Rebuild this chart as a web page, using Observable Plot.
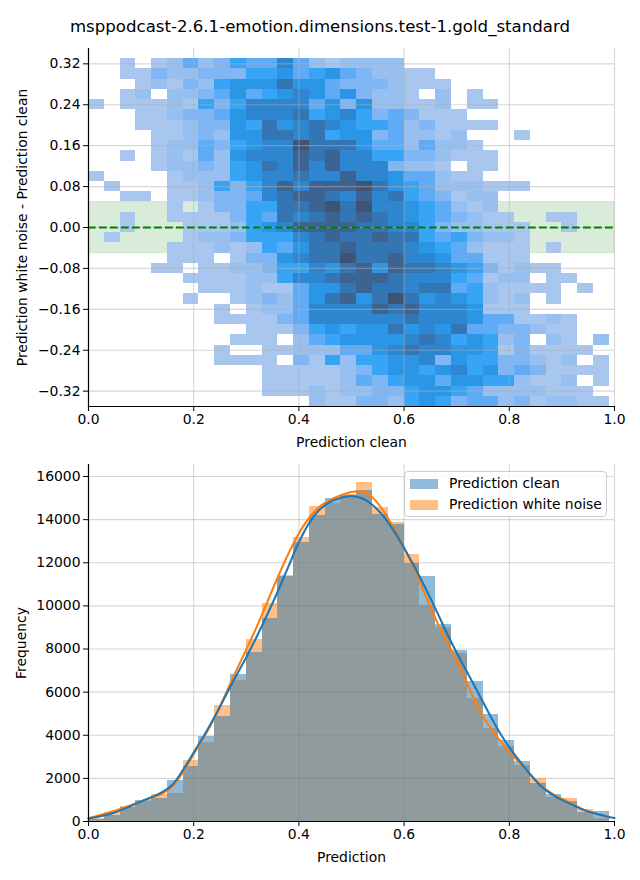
<!DOCTYPE html>
<html>
<head>
<meta charset="utf-8">
<script src="https://cdn.jsdelivr.net/npm/d3@7"></script>
<script src="https://cdn.jsdelivr.net/npm/@observablehq/plot@0.6"></script>
<style>
  html, body { margin: 0; padding: 0; background: #fff; }
  body { width: 640px; font-family: "DejaVu Sans", sans-serif; color: #000; }
  #title { height: 40px; line-height: 53px; text-align: center; font-size: 16.6px; white-space: nowrap; }
  #lower { position: relative; height: 420px; }
  svg { display: block; }
  #legend { position: absolute; left: 404px; top: 11px; width: 203px; height: 46px; box-sizing: border-box;
    background: rgba(255,255,255,.8); border: 1px solid #ccc; border-radius: 4px; font-size: 13.9px; line-height: 21px; padding: 1px 0 0 5px; }
  #legend div { display: flex; align-items: center; white-space: nowrap; }
  #legend i { display: inline-block; width: 28px; height: 10px; margin-right: 11px; }
</style>
</head>
<body>
<div id="title">msppodcast-2.6.1-emotion.dimensions.test-1.gold_standard</div>
<div id="upper"></div>
<div id="lower"></div>
<script>
const xTicks = [0, 0.2, 0.4, 0.6, 0.8, 1];
const diffTicks = [-0.32, -0.24, -0.16, -0.08, 0, 0.08, 0.16, 0.24, 0.32];
const freqTicks = [0, 2000, 4000, 6000, 8000, 10000, 12000, 14000, 16000];
const colWidth = 0.03;
const rowHeight = 0.02;
const topRowCentre = 0.34;

// Density level of each heatmap cell: one string per row from the top, one character per column.
const densityRows = [
  "",
  "..1.1242354474212222",
  "..11322333556456432211",
  "...12132566686643332111",
  "..12.2234645676463221.2.1",
  "1.111215357777463622112.11",
  "...112334677785675343111",
  "...11123365867876554231111",
  "....11232668878566342212...1",
  "....122435677a88864424221",
  "..1.1214267779897755332111",
  "....1223256879797773221.11",
  "1....12225677877977644211",
  ".1...112535797999a8654222111",
  "..11.112334789987978543122",
  ".....1.13355889a8a77654212",
  "..1..1111354878989876543211..11",
  "..1...1112567999988775322111..1",
  ".1....1223555789889885453221",
  ".....11121254688988876542111.1",
  ".....111.1336788a88977644111",
  "....11.11223557689698876531211",
  "......1111225778999877754122.11",
  ".......11121146689887884521111.1",
  "......1..1232468968a86765212.1",
  "........1.122477779897776111",
  "........11113477777787776441121",
  "..........111356566867684433211",
  ".........111.245666678756523.21.2",
  "........1..112224467877665131111",
  "........1111.315255667365533212.1",
  "...........1111123566567563431111",
  "...........11111243566466552112.1",
  "...........111212233566542222111",
  "..............2113325653442312211"
];
const levelDomain = [1, 2, 3, 4, 5, 6, 7, 8, 9, 10];
const levelColors = ["#a8c6ee", "#97bff0", "#80b6f3", "#5fabf6", "#37a4f6", "#2a96e5", "#2d86cf", "#3475b3", "#3c6392", "#3f5472"];

const histClean = [110, 280, 640, 980, 1050, 1890, 2540, 3930, 4860, 6810, 7830, 9393, 11350, 12950, 14176, 15000, 15100, 15370, 14250, 13760, 11980, 11370, 9117, 7920, 6480, 4950, 3744, 2770, 1750, 1238, 910, 400, 449];
const histNoise = [160, 420, 680, 950, 1270, 1280, 2810, 3650, 5370, 6530, 8430, 10129, 11400, 13164, 14590, 14730, 15170, 15740, 14544, 13885, 12382, 10040, 9010, 7810, 5690, 4300, 3465, 2580, 1980, 1100, 1052, 541, 160];

const kdeCleanX = [0, 0.05, 0.1, 0.14, 0.16, 0.18, 0.2, 0.22, 0.24, 0.26, 0.28, 0.3, 0.32, 0.34, 0.36, 0.38, 0.4, 0.42, 0.44, 0.46, 0.48, 0.5, 0.52, 0.54, 0.56, 0.58, 0.6, 0.62, 0.64, 0.66, 0.68, 0.7, 0.72, 0.74, 0.76, 0.78, 0.8, 0.82, 0.84, 0.86, 0.88, 0.9, 0.92, 0.94, 0.96, 0.98, 1];
const kdeClean = [140, 420, 930, 1360, 1720, 2400, 3200, 4000, 4870, 5800, 6730, 7620, 8580, 9600, 10680, 11820, 12950, 13860, 14480, 14830, 15020, 15100, 14990, 14680, 14180, 13500, 12690, 11800, 10850, 9850, 8800, 7830, 6920, 6000, 5080, 4200, 3440, 2790, 2180, 1650, 1270, 1000, 770, 550, 390, 270, 160];
const kdeNoiseX = [0, 0.05, 0.1, 0.14, 0.16, 0.18, 0.2, 0.22, 0.24, 0.26, 0.28, 0.3, 0.32, 0.34, 0.36, 0.38, 0.4, 0.42, 0.44, 0.46, 0.48, 0.5, 0.52, 0.54, 0.56, 0.58, 0.6, 0.62, 0.64, 0.66, 0.68, 0.7, 0.72, 0.74, 0.76, 0.78, 0.8, 0.82, 0.84, 0.86, 0.88, 0.9, 0.92, 0.94, 0.96, 0.98, 0.99];
const kdeNoise = [155, 495, 930, 1300, 1640, 2300, 3120, 3930, 4820, 5870, 6950, 7980, 9040, 10190, 11340, 12420, 13370, 14100, 14620, 14920, 15130, 15280, 15300, 15030, 14430, 13620, 12690, 11700, 10530, 9400, 8400, 7480, 6400, 5300, 4500, 3830, 3250, 2700, 2170, 1670, 1320, 1060, 820, 560, 385, 260, 185];

const blue = "#1f77b4", orange = "#ff7f0e", gridColor = "#b0b0b0";
const baseStyle = { fontFamily: "DejaVu Sans, sans-serif", fontSize: "13.9px", color: "#000", background: "transparent", overflow: "visible" };

const cells = densityRows.flatMap((row, r) => Array.from(row).flatMap((ch, c) => ch === "." ? [] : [{
  x1: c * colWidth, x2: (c + 1) * colWidth,
  y1: topRowCentre - r * rowHeight - rowHeight / 2, y2: topRowCentre - r * rowHeight + rowHeight / 2,
  level: parseInt(ch, 16)
}]));
const bars = values => values.map((v, i) => ({ x1: i * colWidth, x2: (i + 1) * colWidth, y2: v }));
const curve = (xs, ys) => xs.map((x, i) => ({ x, y: ys[i] }));
const axes = (yTicks, yLabel, xLabel, yFormat, yOffset, xOffset) => [
  Plot.axisX({ ticks: xTicks, tickFormat: d3.format(".1f"), tickSize: 5, tickPadding: 3, label: xLabel, labelAnchor: "center", labelArrow: "none", labelOffset: xOffset, fontSize: 13.9 }),
  Plot.axisY({ ticks: yTicks, tickFormat: yFormat, tickSize: 5, tickPadding: 3, label: yLabel, labelAnchor: "center", labelArrow: "none", labelOffset: yOffset, fontSize: 13.9 }),
  Plot.frame({ anchor: "left", stroke: "#000", strokeWidth: 1.2 }),
  Plot.frame({ anchor: "bottom", stroke: "#000", strokeWidth: 1.2 })
];
const gridMarks = yTicks => [
  Plot.ruleX(xTicks, { stroke: gridColor, strokeOpacity: 0.5, strokeWidth: 1.1 }),
  Plot.ruleY(yTicks, { stroke: gridColor, strokeOpacity: 0.5, strokeWidth: 1.1 })
];

const upper = Plot.plot({
  width: 640, height: 420, marginTop: 8, marginBottom: 54, marginLeft: 88, marginRight: 26,
  style: baseStyle,
  x: { domain: [0, 1] },
  y: { domain: [-0.35, 0.35] },
  color: { type: "ordinal", domain: levelDomain, range: levelColors },
  marks: [
    Plot.rect([{ x1: 0, x2: 1, y1: -0.05, y2: 0.05 }], { x1: "x1", x2: "x2", y1: "y1", y2: "y2", fill: "green", fillOpacity: 0.15, stroke: "green", strokeOpacity: 0.12 }),
    Plot.rect(cells, { x1: "x1", x2: "x2", y1: "y1", y2: "y2", fill: "level", shapeRendering: "crispEdges" }),
    ...gridMarks(diffTicks),
    Plot.ruleY([0], { stroke: "green", strokeWidth: 2, strokeDasharray: "7.7,3.3" }),
    ...axes(diffTicks, "Prediction white noise - Prediction clean", "Prediction clean", d3.format(".2f"), 71, 40)
  ]
});
document.getElementById("upper").append(upper);

const lower = Plot.plot({
  width: 640, height: 420, marginTop: 4, marginBottom: 59, marginLeft: 88, marginRight: 26,
  style: baseStyle,
  x: { domain: [0, 1] },
  y: { domain: [0, 16558] },
  marks: [
    ...gridMarks(freqTicks),
    Plot.rect(bars(histNoise), { x1: "x1", x2: "x2", y1: 0, y2: "y2", fill: orange, fillOpacity: 0.5, shapeRendering: "crispEdges" }),
    Plot.rect(bars(histClean), { x1: "x1", x2: "x2", y1: 0, y2: "y2", fill: blue, fillOpacity: 0.5, shapeRendering: "crispEdges" }),
    Plot.line(curve(kdeNoiseX, kdeNoise), { x: "x", y: "y", stroke: orange, strokeWidth: 2.08, curve: "catmull-rom" }),
    Plot.line(curve(kdeCleanX, kdeClean), { x: "x", y: "y", stroke: blue, strokeWidth: 2.08, curve: "catmull-rom" }),
    ...axes(freqTicks, "Frequency", "Prediction", d3.format("d"), 72, 40)
  ]
});
const lowerBox = document.getElementById("lower");
lowerBox.append(lower);
const legend = document.createElement("div");
legend.id = "legend";
legend.innerHTML = '<div><i style="background:rgba(31,119,180,.5)"></i>Prediction clean</div><div><i style="background:rgba(255,127,14,.5)"></i>Prediction white noise</div>';
lowerBox.append(legend);
</script>
</body>
</html>
